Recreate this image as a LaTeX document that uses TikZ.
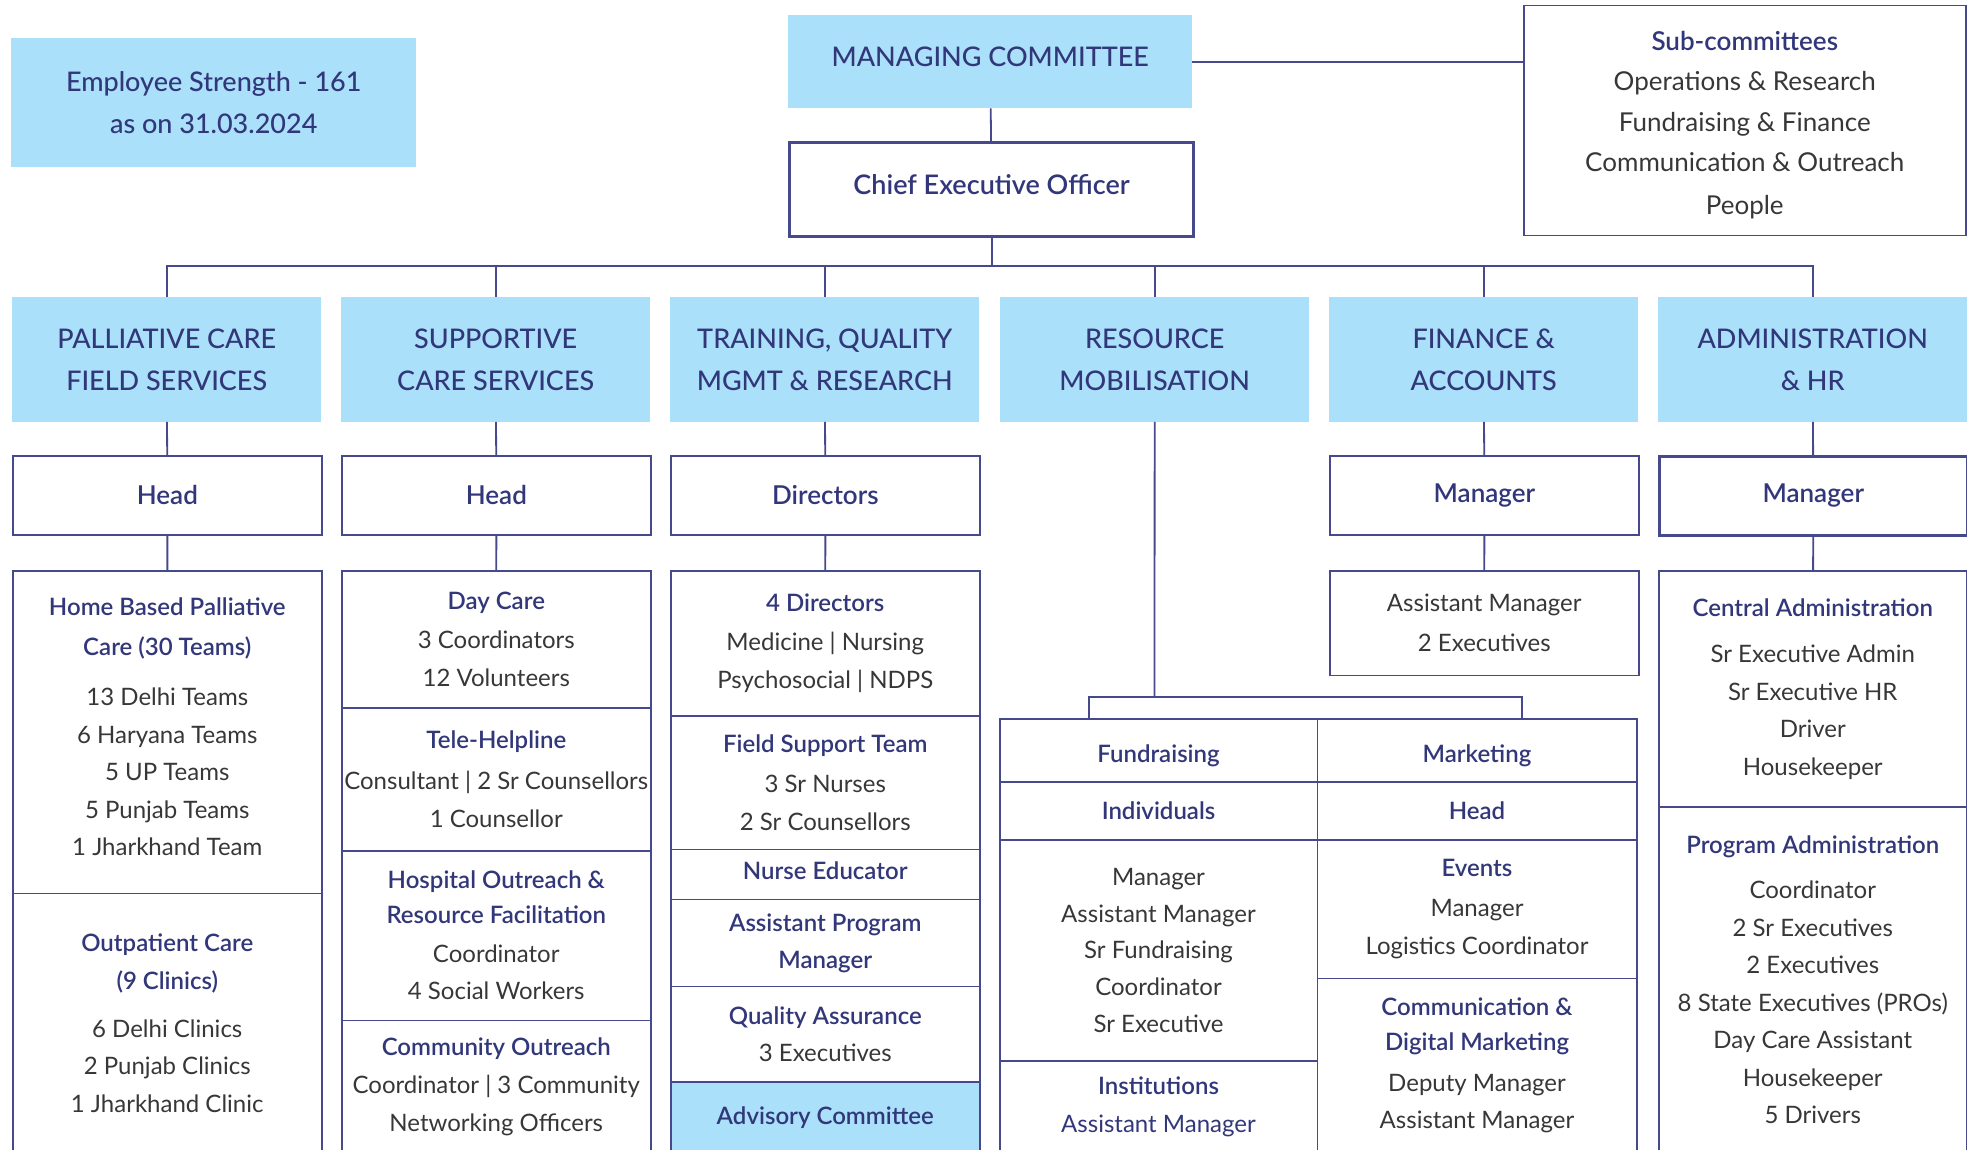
\documentclass[tikz,border=0pt]{standalone}
\usepackage{fontspec}
\setmainfont{Lato}[BoldFont=Lato Semibold]
\newfontfamily\medfont{Lato Medium}
\usepackage{tikz}
\definecolor{sky}{RGB}{170,224,250}
\definecolor{deep}{RGB}{50,55,122}
\definecolor{edge}{RGB}{70,74,140}
\definecolor{ink}{RGB}{55,55,55}
\newcommand{\hd}[1]{\textcolor{deep}{\bfseries #1}}
\tikzstyle{dept} = [fill=sky, text=deep, anchor=north west, inner sep=0pt, minimum width=309pt, minimum height=124.5pt, align=center, font={\medfont\fontsize{27}{42}\selectfont}]
\tikzstyle{role} = [draw=edge, line width=1.8pt, text=deep, anchor=north west, inner sep=0pt, minimum width=309pt, minimum height=79pt, align=center, font={\fontsize{26}{30}\selectfont\bfseries}]
\tikzstyle{cell} = [draw=edge, line width=1.5pt, text=ink, anchor=north west, inner sep=0pt, minimum width=309pt, align=center, font={\fontsize{24}{37.5}\selectfont}]
\tikzstyle{link} = [draw=edge, line width=1.8pt]

\begin{document}
\begin{tikzpicture}[x=1pt,y=-1pt]
    \useasboundingbox (0,0) rectangle (1967,1150);
    \node[dept, minimum width=405pt, minimum height=129pt](emp) at (11,38){Employee Strength - 161\\as on 31.03.2024};
    \node[dept, minimum width=404pt, minimum height=93pt](mc) at (788,15){MANAGING COMMITTEE\\[-32pt]\mbox{}};
    \node[role, line width=3.2pt, minimum width=404pt, minimum height=94pt, font={\fontsize{27}{30}\selectfont\bfseries}](ceo) at (788,141){Chief Executive Officer\\[-20pt]\mbox{}};
    \node[cell, minimum width=442pt, minimum height=230pt, font={\fontsize{26}{40.5}\selectfont}](sub) at (1523,5){\rule{0pt}{28pt}\hd{Sub-committees}\\Operations \& Research\\Fundraising \& Finance\\Communication \& Outreach\\[2.5pt]People};
    \draw[link](mc)--(ceo);
    \draw[link](mc.east)--(mc.east -| sub.west);

    \node[dept](pc) at (12,297){PALLIATIVE CARE\\FIELD SERVICES};
    \node[dept](sc) at (341,297){SUPPORTIVE\\CARE SERVICES};
    \node[dept](tq) at (670,297){TRAINING, QUALITY\\MGMT \& RESEARCH};
    \node[dept](rm) at (1000,297){RESOURCE\\MOBILISATION};
    \node[dept](fa) at (1329,297){FINANCE \&\\ACCOUNTS};
    \node[dept](ad) at (1658,297){ADMINISTRATION\\\& HR};
    \draw[link](ceo.south)--++(0,28)-|(pc.north);
    \draw[link](ceo.south)--++(0,28)-|(sc.north);
    \draw[link](ceo.south)--++(0,28)-|(tq.north);
    \draw[link](ceo.south)--++(0,28)-|(rm.north);
    \draw[link](ceo.south)--++(0,28)-|(fa.north);
    \draw[link](ceo.south)--++(0,28)-|(ad.north);

    \node[role](pchead) at (12,455){Head};
    \node[cell, minimum height=322.6pt](pc1) at (12,570){\hd{Home Based Palliative}\\[2.5pt]\hd{Care (30 Teams)}\\[12.5pt]13 Delhi Teams\\6 Haryana Teams\\5 UP Teams\\5 Punjab Teams\\1 Jharkhand Team\\[-27.5pt]\mbox{}};
    \node[cell, minimum height=259.4pt](pc2) at (12,892.6){\hd{Outpatient Care}\\\hd{(9 Clinics)}\\[10.5pt]6 Delhi Clinics\\2 Punjab Clinics\\1 Jharkhand Clinic};
    \draw[link](pc)--(pchead);
    \draw[link](pchead)--(pc1);

    \node[role](schead) at (341,455){Head};
    \node[cell, minimum height=137pt](sc1) at (341,570){\hd{Day Care}\\[1.5pt]3 Coordinators\\12 Volunteers};
    \node[cell, minimum height=143pt](sc2) at (341,707){\hd{Tele-Helpline}\\[3.5pt]Consultant | 2 Sr Counsellors\\1 Counsellor};
    \node[cell, minimum height=169.7pt](sc3) at (341,850){\hd{Hospital Outreach \&}\\[-3pt]\hd{Resource Facilitation}\\[1.5pt]Coordinator\\4 Social Workers};
    \node[cell, minimum height=132.3pt](sc4) at (341,1019.7){\hd{Community Outreach}\\[1pt]Coordinator | 3 Community\\Networking Officers};
    \draw[link](sc)--(schead);
    \draw[link](schead)--(sc1);

    \node[role](tqhead) at (670,455){Directors};
    \node[cell, minimum height=145pt](tq1) at (670,570){\hd{4 Directors}\\[2pt]Medicine | Nursing\\Psychosocial | NDPS};
    \node[cell, minimum height=133.8pt](tq2) at (670,715){\hd{Field Support Team}\\[2.5pt]3 Sr Nurses\\2 Sr Counsellors};
    \node[cell, minimum height=50pt](tq3) at (670,848.8){\hd{Nurse Educator}\\[-29.5pt]\mbox{}};
    \node[cell, minimum height=87.1pt](tq4) at (670,898.8){\hd{Assistant Program}\\\hd{Manager}};
    \node[cell, minimum height=95.4pt](tq5) at (670,985.9){\hd{Quality Assurance}\\3 Executives};
    \node[cell, fill=sky, minimum height=70.7pt](tq6) at (670,1081.3){\hd{Advisory Committee}};
    \draw[link](tq)--(tqhead);
    \draw[link](tqhead)--(tq1);

    \node[cell, minimum width=317.5pt, minimum height=63pt](rm1) at (999,718){\rule{0pt}{28pt}\hd{Fundraising}};
    \node[cell, minimum width=317.5pt, minimum height=58pt](rm2) at (999,781){\hd{Individuals}};
    \node[cell, minimum width=317.5pt, minimum height=221pt](rm3) at (999,839){Manager\\[-0.75pt]Assistant Manager\\[-0.75pt]Sr Fundraising\\[-0.75pt]Coordinator\\[-0.75pt]Sr Executive};
    \node[cell, minimum width=317.5pt, minimum height=92pt](rm4) at (999,1060){\hd{Institutions}\\\textcolor{deep}{Assistant Manager}};
    \node[cell, minimum width=319.5pt, minimum height=63pt](rm5) at (1316.5,718){\rule{0pt}{28pt}\hd{Marketing}};
    \node[cell, minimum width=319.5pt, minimum height=58pt](rm6) at (1316.5,781){\hd{Head}};
    \node[cell, minimum width=319.5pt, minimum height=138.5pt](rm7) at (1316.5,839){\hd{Events}\\[2.5pt]Manager\\Logistics Coordinator};
    \node[cell, minimum width=319.5pt, minimum height=174.5pt](rm8) at (1316.5,977.5){\hd{Communication \&}\\[-2.5pt]\hd{Digital Marketing}\\[3.5pt]Deputy Manager\\Assistant Manager};
    \coordinate(rmmid) at (1154.5,697);
    \coordinate(rml) at (1089,718);
    \coordinate(rmr) at (1522,718);
    \draw[link](rm)--(rmmid);
    \draw[link](rml)|-(rmmid)-|(rmr);

    \node[role](fahead) at (1329,455){Manager};
    \node[cell, minimum height=104.6pt](fa1) at (1329,570){Assistant Manager\\[2pt]2 Executives};
    \draw[link](fa)--(fahead);
    \draw[link](fahead)--(fa1);

    \node[role, line width=2.6pt, minimum width=308pt](adhead) at (1658,455){Manager};
    \node[cell, minimum width=308pt, minimum height=236pt](ad1) at (1658,570){\hd{Central Administration}\\[9pt]Sr Executive Admin\\Sr Executive HR\\Driver\\Housekeeper};
    \node[cell, minimum width=308pt, minimum height=346pt](ad2) at (1658,806){\hd{Program Administration}\\[7.7pt]Coordinator\\2 Sr Executives\\2 Executives\\8 State Executives (PROs)\\Day Care Assistant\\Housekeeper\\5 Drivers};
    \draw[link](ad)--(adhead);
    \draw[link](adhead)--(ad1);
\end{tikzpicture}
\end{document}
